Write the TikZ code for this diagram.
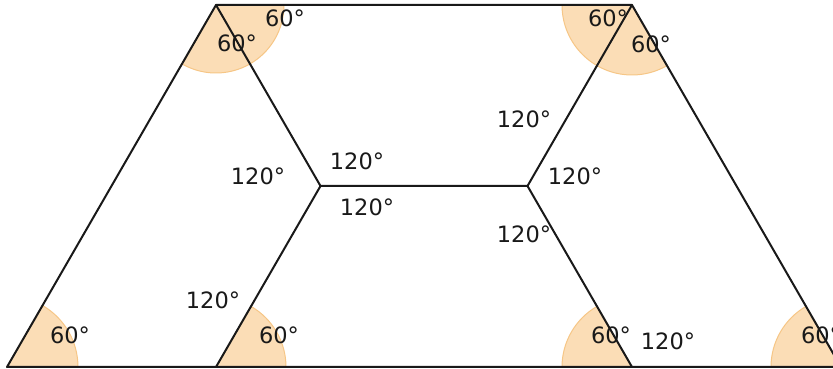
\documentclass[tikz,border=0pt]{standalone}
\usepackage{fontspec}
\setmainfont{DejaVu Sans}
\usetikzlibrary{positioning}
\definecolor{angfill}{RGB}{251,221,182}
\definecolor{angedge}{RGB}{246,198,134}
\definecolor{edgeink}{RGB}{25,25,25}
\tikzset{
  seg/.style={draw=edgeink, line width=2pt, line cap=round, line join=round},
  wedge/.style={fill=angfill, draw=angedge, line width=1pt},
  deg/.style={font=\fontsize{22.5}{26}\selectfont, text=edgeink, inner sep=0pt},
}
\begin{document}
\begin{tikzpicture}[x=1pt, y=1pt]
    \useasboundingbox (0,0) rectangle (833,369);
    \clip (0,0) rectangle (833,369);
    % corners of the trapezoid and the two inner points
    \coordinate (tl) at (216,364);
    \coordinate (tr) at (632,364);
    \coordinate (bl) at (7,2);
    \coordinate (br) at (841,2);
    \coordinate (bm1) at (216,2);
    \coordinate (bm2) at (632,2);
    \coordinate (p) at (320.5,183);
    \coordinate (q) at (527.5,183);
    % angle wedges
    \fill[wedge] (tl) -- +(240:68) arc[start angle=240, end angle=360, radius=68] -- cycle;
    \fill[wedge] (tr) -- +(180:70) arc[start angle=180, end angle=300, radius=70] -- cycle;
    \fill[wedge] (bl) -- +(0:71) arc[start angle=0, end angle=60, radius=71] -- cycle;
    \fill[wedge] (bm1) -- +(0:70) arc[start angle=0, end angle=60, radius=70] -- cycle;
    \fill[wedge] (bm2) -- +(120:70) arc[start angle=120, end angle=180, radius=70] -- cycle;
    \fill[wedge] (br) -- +(120:70) arc[start angle=120, end angle=180, radius=70] -- cycle;
    % outline and inner lines
    \draw[seg] (bl) -- (tl) -- (tr) -- (br) -- cycle;
    \draw[seg] (tl) -- (p) -- (q) -- (tr);
    \draw[seg] (p) -- (bm1);
    \draw[seg] (q) -- (bm2);
    % labels
    \node[deg] (a1) at (285,351) {60°};
    \node[deg] (a2) at (237,326) {60°};
    \node[deg] (b1) at (608,351) {60°};
    \node[deg] (b2) at (651,325) {60°};
    \node[deg] (q1) at (524,250) {120°};
    \node[deg] (q2) at (575,193) {120°};
    \node[deg] (q3) at (524,135) {120°};
    \node[deg] (p1) at (357,208) {120°};
    \node[deg] (p2) at (258,193) {120°};
    \node[deg] (p3) at (367,162) {120°};
    \node[deg] (e1) at (213,69) {120°};
    \node[deg] (c1) at (70,34) {60°};
    \node[deg] (e2) at (279,34) {60°};
    \node[deg] (f1) at (611,34) {60°};
    \node[deg] (f2) at (668,28) {120°};
    \node[deg] (d1) at (821,34) {60°};
\end{tikzpicture}
\end{document}
